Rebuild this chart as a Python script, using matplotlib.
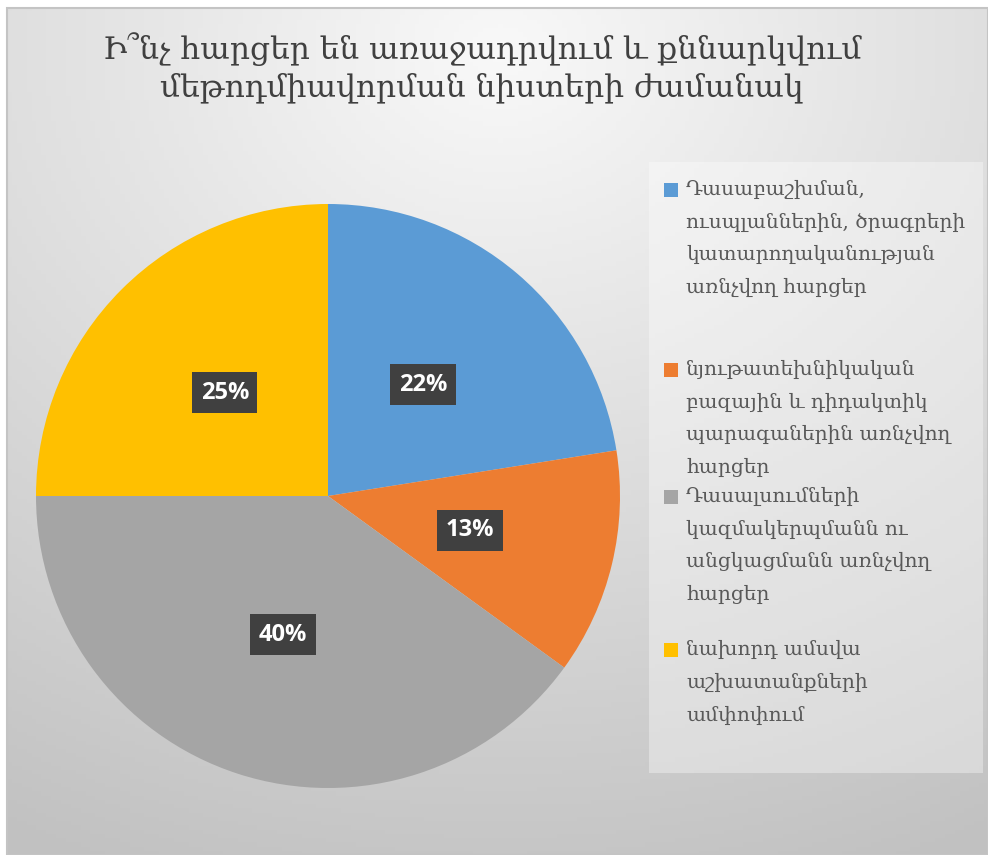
import numpy as np
import matplotlib.pyplot as plt
from matplotlib.patches import Rectangle

# data
title = "Ի՞նչ հարցեր են առաջադրվում և քննարկվում\nմեթոդմիավորման նիստերի ժամանակ"
categories = [
    "Դասաբաշխման,\nուսպլաններին, ծրագրերի\nկատարողականության\nառնչվող հարցեր",
    "նյութատեխնիկական\nբազային և դիդակտիկ\nպարագաներին առնչվող\nհարցեր",
    "Դասալսումների\nկազմակերպմանն ու\nանցկացմանն առնչվող\nհարցեր",
    "նախորդ ամսվա\nաշխատանքների\nամփոփում",
]
shares = [22.5, 12.5, 40.0, 25.0]
pct_labels = ["22%", "13%", "40%", "25%"]
colors = ["#5b9bd5", "#ed7d31", "#a5a5a5", "#ffc000"]

W, H = 988, 855
fig = plt.figure(figsize=(W / 100, H / 100), dpi=100)

# background gradient (light at top centre, darker towards bottom corners)
bg = fig.add_axes([7 / W, 0, 1 - 7 / W, 1 - 8 / H])
yy, xx = np.mgrid[0:200, 0:200] / 200.0
d = np.sqrt(((xx - 0.5) * 1.0) ** 2 + ((yy - 0.05) * 1.05) ** 2)
g = np.clip(0.975 - 0.2 * d, 0.76, 1)
bg.imshow(np.dstack([g, g, g]), extent=[0, 1, 0, 1], origin="upper", aspect="auto")
bg.set_xlim(0, 1)
bg.set_ylim(0, 1)
bg.axis("off")
# border
fig.patches.append(Rectangle((7 / W, 0), 1 - 7 / W, 1 - 8 / H, transform=fig.transFigure,
                             fill=False, edgecolor="#c4c4c4", lw=1.5))

fig.text(482 / W, 1 - 68 / H, title, ha="center", va="center", fontsize=22.5,
         color="#404040", family=["DejaVu Serif"], linespacing=1.25)

# pie
cx, cy, r = 328, 496, 292
ax = fig.add_axes([(cx - r) / W, 1 - (cy + r) / H, 2 * r / W, 2 * r / H])
wedges, texts = ax.pie(shares, colors=colors, startangle=90, counterclock=False,
                       labels=pct_labels, labeldistance=0.5,
                       wedgeprops=dict(linewidth=0))
for t in texts:
    t.set_ha("center")
    t.set_va("center")
    t.set_color("white")
    t.set_fontsize(17)
    t.set_family(["Open Sans", "DejaVu Sans"])
    t.set_fontweight("bold")
    t.set_bbox(dict(boxstyle="square,pad=0.36", facecolor="#404040", edgecolor="none"))
ax.set_xlim(-1, 1)
ax.set_ylim(-1, 1)
ax.set_aspect("equal")

# legend box
lx0, ly0, lx1, ly1 = 649, 162, 983, 773
fig.patches.append(Rectangle((lx0 / W, 1 - ly1 / H), (lx1 - lx0) / W, (ly1 - ly0) / H,
                             transform=fig.transFigure, facecolor="white", alpha=0.35,
                             edgecolor="none"))
item_tops = [190, 370, 497, 650]
for lab, col, ytop in zip(categories, colors, item_tops):
    fig.patches.append(Rectangle((664 / W, 1 - (ytop + 7) / H), 14 / W, 14 / H,
                                 transform=fig.transFigure, facecolor=col, edgecolor="none"))
    fig.text(686 / W, 1 - (ytop - 10) / H, lab, ha="left", va="top", fontsize=14.5,
             color="#595959", family=["DejaVu Serif"], linespacing=1.9)

fig.savefig("out.png", dpi=100)
